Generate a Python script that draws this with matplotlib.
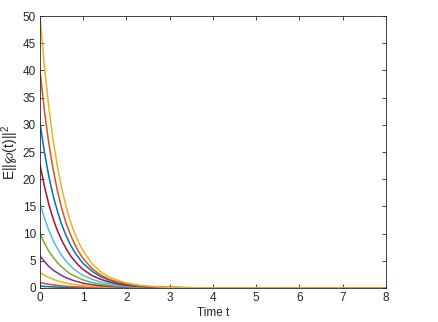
import numpy as np
import matplotlib
matplotlib.use('Agg')
import matplotlib.pyplot as plt

plt.rcParams['font.family'] = ['Liberation Sans', 'DejaVu Sans']
plt.rcParams['mathtext.default'] = 'regular'

# sample times
t = [0, 0.1, 0.2, 0.3, 0.4, 0.5, 0.6, 0.7, 0.8, 0.9, 1.0, 1.2, 1.4, 1.6, 1.8,
     2.0, 2.25, 2.5, 2.75, 3.0, 3.5, 4.0, 8.0]

# one list per curve, smallest first (matlab colour order)
c1 = [0.35, 0.29, 0.24, 0.2, 0.16, 0.14, 0.11, 0.09, 0.08, 0.06, 0.05, 0.04, 0.02, 0.02, 0.01,
      0.01, 0, 0, 0, 0, 0, 0, 0]
c2 = [1.0, 0.83, 0.68, 0.57, 0.47, 0.39, 0.32, 0.26, 0.22, 0.18, 0.15, 0.1, 0.07, 0.05, 0.03,
      0.02, 0.01, 0.01, 0.01, 0, 0, 0, 0]
c3 = [2.85, 2.36, 1.95, 1.61, 1.33, 1.1, 0.91, 0.75, 0.62, 0.52, 0.43, 0.29, 0.2, 0.14, 0.09,
      0.06, 0.04, 0.02, 0.02, 0.01, 0, 0, 0]
c4 = [5.9, 4.9, 4.0, 3.3, 2.8, 2.3, 1.9, 1.6, 1.3, 1.1, 0.88, 0.6, 0.41, 0.28, 0.19,
      0.13, 0.08, 0.05, 0.03, 0.02, 0.01, 0, 0]
c5 = [10, 8.3, 6.8, 5.7, 4.7, 3.9, 3.2, 2.6, 2.2, 1.8, 1.5, 1.0, 0.7, 0.48, 0.33,
      0.22, 0.14, 0.09, 0.05, 0.03, 0.01, 0.005, 0]
c6 = [15.6, 12.9, 10.7, 8.8, 7.3, 6.0, 5.0, 4.1, 3.4, 2.8, 2.3, 1.6, 1.1, 0.75, 0.51,
      0.35, 0.22, 0.13, 0.08, 0.05, 0.02, 0.01, 0]
c7 = [22.7, 18.8, 15.5, 12.8, 10.6, 8.8, 7.3, 6.0, 5.0, 4.1, 3.4, 2.3, 1.6, 1.1, 0.74,
      0.51, 0.32, 0.2, 0.12, 0.08, 0.03, 0.01, 0]
c8 = [30.3, 25.1, 20.7, 17.1, 14.2, 11.7, 9.7, 8.0, 6.6, 5.5, 4.5, 3.1, 2.1, 1.45, 0.99,
      0.68, 0.42, 0.26, 0.16, 0.1, 0.04, 0.02, 0]
c9 = [40, 32.7, 26.8, 22.0, 18.0, 14.7, 12.0, 9.9, 8.1, 6.6, 5.4, 3.6, 2.4, 1.6, 1.1,
      0.73, 0.44, 0.27, 0.16, 0.1, 0.04, 0.01, 0]
c10 = [50, 40.9, 33.5, 27.4, 22.5, 18.4, 15.1, 12.3, 10.1, 8.3, 6.8, 4.5, 3.0, 2.0, 1.4,
       0.92, 0.56, 0.34, 0.2, 0.12, 0.05, 0.02, 0]

curves = [c1, c2, c3, c4, c5, c6, c7, c8, c9, c10]
colors = ['#0072BD', '#D95319', '#EDB120', '#7E2F8E', '#77AC30',
          '#4DBEEE', '#A2142F']

fig = plt.figure(figsize=(4.39, 3.22), dpi=100)
ax = fig.add_axes([0.0911, 0.1056, 0.7879, 0.8447])

for i, c in enumerate(curves):
    ax.plot(t, c, color=colors[i % len(colors)], lw=1.1)

ax.set_xlim(0, 8)
ax.set_ylim(0, 50)
ax.set_xticks(range(0, 9))
ax.set_yticks(range(0, 51, 5))
ax.tick_params(direction='in', length=3, width=0.6, labelsize=8.5,
               top=True, right=True, colors='#262626', pad=3)
for s in ax.spines.values():
    s.set_linewidth(0.6)
    s.set_color('#262626')

ax.set_xlabel('Time t', fontsize=8.5, color='#262626', labelpad=2)
ax.set_ylabel(r'E||$\wp$(t)||$^2$', fontsize=10, color='#262626', labelpad=1)

fig.savefig('out.png', dpi=100)
